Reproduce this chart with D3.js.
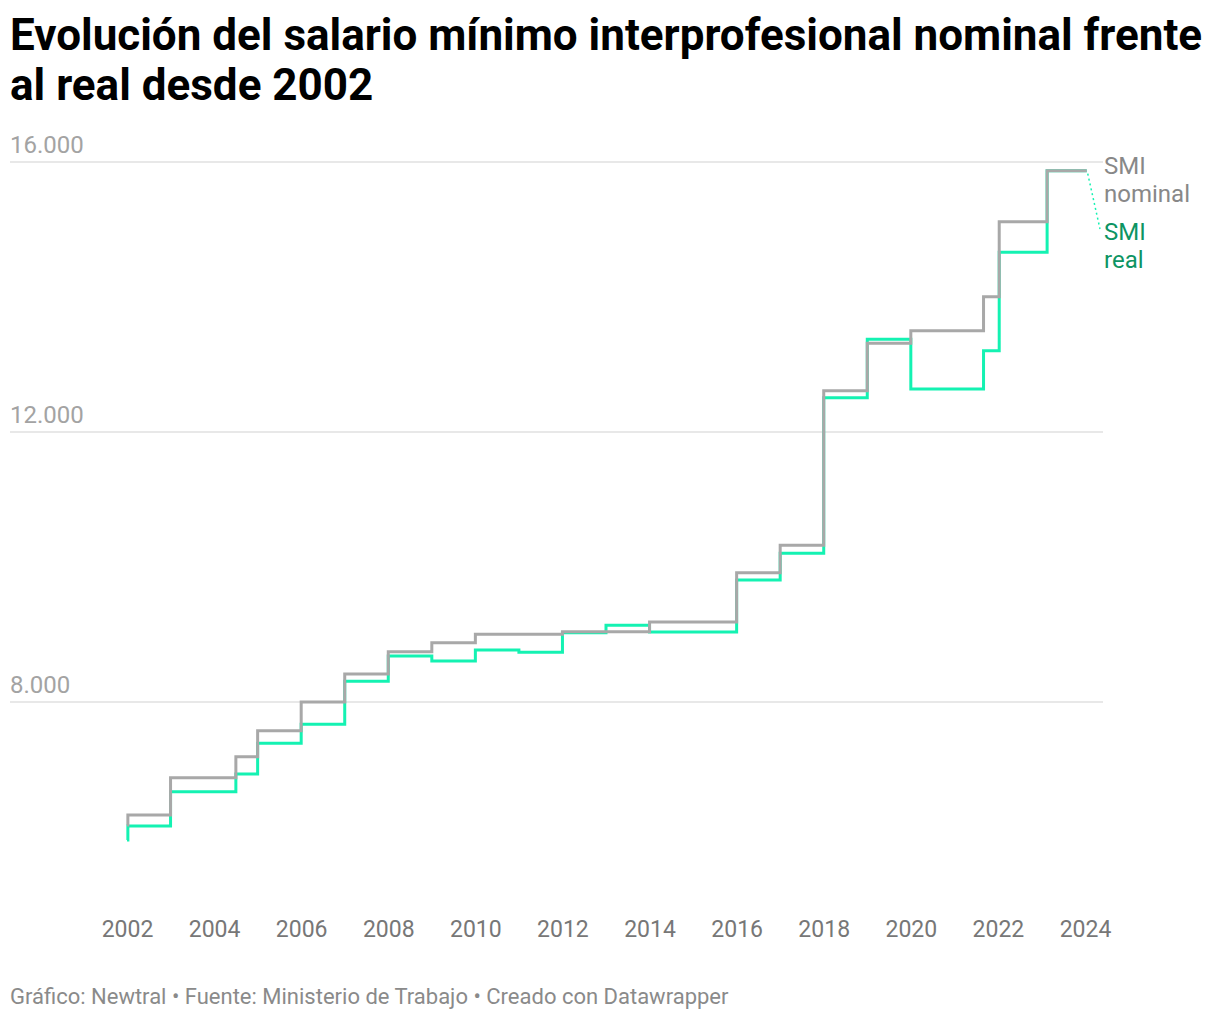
<!DOCTYPE html>
<html>
<head>
<meta charset="utf-8">
<script src="https://cdn.jsdelivr.net/npm/d3@7"></script>
<style>
  body { margin: 0; background: #fff; }
  text { font-family: Roboto, "Noto Sans", sans-serif; }
</style>
</head>
<body>
<div id="chart"></div>
<script>
// Chart data
const dates = [2002.0, 2002.02, 2003.0, 2004.5, 2005.0, 2006.0, 2007.0, 2008.0, 2009.0, 2010.0,
    2011.0, 2012.0, 2013.0, 2014.0, 2015.0, 2016.0, 2017.0, 2018.0, 2019.0, 2020.0,
    2021.67, 2022.03, 2023.13, 2024.04];
const smiNominal = [6178, 6326, 6879, 7190, 7575, 8000, 8415, 8745, 8879, 9003,
    9003, 9041, 9041, 9185, 9185, 9916, 10321, 12612, 13314, 13501,
    14004, 15116, 15871, 15871];
const smiReal = [5956, 6163, 6671, 6933, 7388, 7670, 8307, 8681, 8607, 8770,
    8736, 9027, 9136, 9037, 9037, 9807, 10203, 12508, 13373, 12637,
    13204, 14662, 15871, 15871];
const yTicks = [8000, 12000, 16000];
const xTicks = [2002, 2004, 2006, 2008, 2010, 2012, 2014, 2016, 2018, 2020, 2022, 2024];

const width = 1220, height = 1020;
const grey = "#a8a8a8", green = "#14f2b2";

const svg = d3.select("#chart").append("svg")
    .attr("width", width)
    .attr("height", height);

svg.append("rect")
    .attr("width", width)
    .attr("height", height)
    .style("fill", "white");

// Title
const title = svg.append("text")
    .attr("x", 10)
    .style("font-size", "44px")
    .style("font-weight", "700")
    .style("fill", "#000");
title.append("tspan").attr("x", 10).attr("y", 50)
    .text("Evolución del salario mínimo interprofesional nominal frente");
title.append("tspan").attr("x", 10).attr("y", 100)
    .text("al real desde 2002");

// Scales
const x = d3.scaleLinear().domain([2002, 2024]).range([127, 1085]);
const y = d3.scaleLinear().domain([5000, 16000]).range([904.5, 162]);

// Gridlines + y labels
const gY = svg.append("g").attr("class", "y-axis");
gY.selectAll("line").data(yTicks).join("line")
    .attr("x1", 10).attr("x2", 1103)
    .attr("y1", d => y(d)).attr("y2", d => y(d))
    .style("stroke", "#e1e1e1")
    .style("stroke-width", 1.3);
gY.selectAll("text").data(yTicks).join("text")
    .attr("x", 10)
    .attr("y", d => y(d) - 9)
    .style("font-size", "24px")
    .style("fill", "#a3a3a3")
    .text(d => d3.format(",")(d).replace(/,/g, "."));

// x axis labels
const xAxis = d3.axisBottom(x).tickValues(xTicks).tickFormat(d3.format("d")).tickSize(0).tickPadding(0);
const gX = svg.append("g")
    .attr("transform", "translate(0, 921)")
    .call(xAxis);
gX.select(".domain").remove();
gX.selectAll("text")
    .style("font-size", "23px")
    .style("font-family", "Roboto, sans-serif")
    .style("fill", "#777");

// Lines
const line = d3.line()
    .x(d => x(d[0]))
    .y(d => y(d[1]))
    .curve(d3.curveStepAfter);

svg.append("path")
    .datum(d3.zip(dates, smiReal))
    .attr("d", line)
    .style("fill", "none")
    .style("stroke", green)
    .style("stroke-width", 3);

svg.append("path")
    .datum(d3.zip(dates, smiNominal))
    .attr("d", line)
    .style("fill", "none")
    .style("stroke", grey)
    .style("stroke-width", 3);

// Connector for the real label
const last = dates.length - 1;
svg.append("line")
    .attr("x1", x(dates[last]) + 1).attr("y1", y(smiReal[last]) + 3)
    .attr("x2", 1100).attr("y2", 229)
    .style("stroke", green)
    .style("stroke-width", 1.5)
    .style("stroke-dasharray", "2,3");

// Series labels
const labels = [
    { lines: ["SMI", "nominal"], y0: 174, color: "#888888" },
    { lines: ["SMI", "real"], y0: 240, color: "#0d9463" }
];
labels.forEach(l => {
    const t = svg.append("text")
        .style("font-size", "24px")
        .style("fill", l.color);
    l.lines.forEach((s, i) => {
        t.append("tspan").attr("x", 1104).attr("y", l.y0 + i * 28).text(s);
    });
});

// Footer
svg.append("text")
    .attr("x", 10)
    .attr("y", 1004)
    .style("font-size", "22px")
    .style("fill", "#8a8a8a")
    .text("Gráfico: Newtral • Fuente: Ministerio de Trabajo • Creado con Datawrapper");
</script>
</body>
</html>
